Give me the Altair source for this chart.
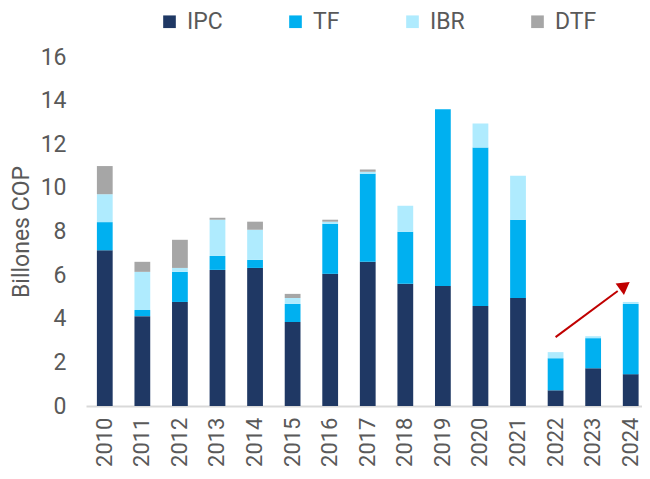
import altair as alt
import pandas as pd

years = [str(y) for y in range(2010, 2025)]
series = ["IPC", "TF", "IBR", "DTF"]
colors = ["#1F3864", "#00B0F0", "#AFEBFE", "#A6A6A6"]

ipc = [7.14, 4.12, 4.77, 6.24, 6.33, 3.85, 6.06, 6.61, 5.60, 5.50, 4.58, 4.95, 0.72, 1.73, 1.46]
tf  = [1.29, 0.28, 1.38, 0.64, 0.37, 0.83, 2.29, 4.04, 2.39, 8.10, 7.27, 3.59, 1.47, 1.38, 3.22]
ibr = [1.28, 1.75, 0.18, 1.66, 1.38, 0.27, 0.10, 0.09, 1.19, 0.00, 1.10, 2.02, 0.28, 0.09, 0.09]
dtf = [1.29, 0.46, 1.29, 0.09, 0.37, 0.19, 0.09, 0.10, 0.00, 0.00, 0.00, 0.00, 0.00, 0.00, 0.00]

arrow_x = ["2022", "2024"]
arrow_y = [3.16, 5.27]
head_y = 5.52

rows = []
for i, y in enumerate(years):
    for k, (name, vals) in enumerate(zip(series, [ipc, tf, ibr, dtf])):
        rows.append({"year": y, "serie": name, "value": vals[i], "idx": k})
df = pd.DataFrame(rows)

font = "Roboto"
gray = "#595959"

# band range runs slightly past the visible right edge, as in the (cropped) original
xscale = alt.Scale(domain=years, range=[-2, 561.5], paddingInner=0.58, paddingOuter=0.29)
yscale = alt.Scale(domain=[0, 16])

bars = alt.Chart(df).mark_bar().encode(
    x=alt.X("year:N", scale=xscale, sort=years,
            axis=alt.Axis(title=None, labelAngle=-90, labelFontSize=22, labelColor=gray,
                          labelFont=font, ticks=False, domainColor="#D9D9D9", domainWidth=2,
                          labelPadding=11, labelBaseline="middle", labelAlign="right")),
    y=alt.Y("value:Q", scale=yscale, stack="zero",
            axis=alt.Axis(title="Billones COP", values=list(range(0, 17, 2)), grid=False,
                          domain=False, ticks=False, labelFontSize=23, labelColor=gray,
                          labelFont=font, labelPadding=22, titleFontSize=23, titleColor=gray,
                          titleFont=font, titleFontWeight="normal", titlePadding=7)),
    color=alt.Color("serie:N", scale=alt.Scale(domain=series, range=colors),
                    legend=alt.Legend(title=None, orient="none", direction="horizontal",
                                      legendX=70, legendY=-47, symbolType="square",
                                      symbolSize=160, symbolStrokeWidth=0, padding=0,
                                      labelFontSize=23, labelColor=gray, labelFont=font,
                                      labelOffset=6, columnPadding=61)),
    order=alt.Order("idx:Q", sort="ascending"),
)

adf = pd.DataFrame({"x": [arrow_x[0]], "x2": [arrow_x[1]], "y": [arrow_y[0]], "y2": [arrow_y[1]]})
line = alt.Chart(adf).mark_rule(color="#C00000", strokeWidth=2, xOffset=0, x2Offset=-13).encode(
    x=alt.X("x:N", scale=xscale, sort=years),
    x2="x2:N",
    y=alt.Y("y:Q", scale=yscale),
    y2="y2:Q",
)
hdf = pd.DataFrame({"x": [arrow_x[1]], "y": [head_y]})
head = alt.Chart(hdf).mark_point(shape="triangle-up", filled=True, color="#C00000", size=200,
                                 angle=54, xOffset=-6, opacity=1).encode(
    x=alt.X("x:N", scale=xscale, sort=years),
    y=alt.Y("y:Q", scale=yscale),
)

chart = alt.layer(bars, line, head).properties(
    width=554, height=349,
    autosize=alt.AutoSizeParams(type="none"),
    padding={"left": 80, "top": 49, "right": 0, "bottom": 60},
).configure_view(stroke=None)

chart.save("out.html", embed_options={"renderer": "svg", "actions": False})
